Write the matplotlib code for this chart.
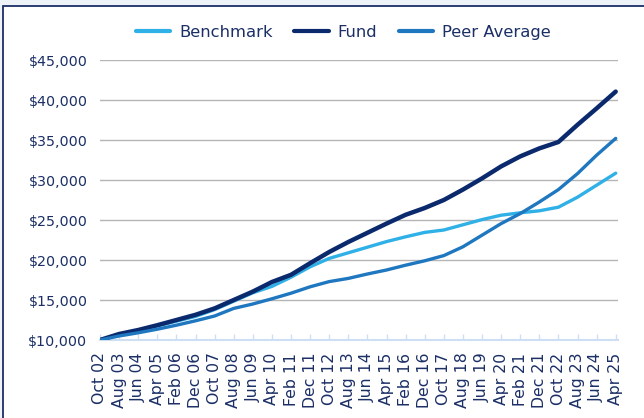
import matplotlib.pyplot as plt
from matplotlib.patches import Rectangle

dates = [
    "Oct 02", "Aug 03", "Jun 04", "Apr 05", "Feb 06", "Dec 06", "Oct 07",
    "Aug 08", "Jun 09", "Apr 10", "Feb 11", "Dec 11", "Oct 12", "Aug 13",
    "Jun 14", "Apr 15", "Feb 16", "Dec 16", "Oct 17", "Aug 18", "Jun 19",
    "Apr 20", "Feb 21", "Dec 21", "Oct 22", "Aug 23", "Jun 24", "Apr 25",
]

benchmark = [
    10000, 10650, 11150, 11750, 12350, 12950, 13800, 14850, 15900, 16700,
    17850, 19150, 20200, 20900, 21600, 22300, 22900, 23450, 23750, 24400,
    25050, 25600, 25900, 26150, 26600, 27850, 29350, 30850,
]
fund = [
    10000, 10750, 11250, 11850, 12500, 13150, 13950, 15000, 16050, 17250,
    18150, 19600, 21000, 22250, 23400, 24550, 25650, 26500, 27500, 28800,
    30200, 31700, 32950, 33950, 34750, 36900, 38950, 41050,
]
peer = [
    10000, 10500, 10900, 11350, 11850, 12400, 13000, 13950, 14500, 15150,
    15850, 16650, 17300, 17700, 18250, 18750, 19350, 19900, 20550, 21650,
    23100, 24550, 25800, 27250, 28800, 30800, 33100, 35200,
]

NAVY = "#1b2f66"
plt.rcParams["font.family"] = ["DejaVu Sans"]

fig = plt.figure(figsize=(6.44, 4.18), dpi=100, facecolor="#eef2f9")
frame = Rectangle((3 / 644, -0.05), 1.0, 1 - 6 / 418 + 0.05,
                  transform=fig.transFigure, facecolor="white",
                  edgecolor=NAVY, linewidth=1.3, zorder=-10)
fig.patches.append(frame)

ax = fig.add_axes([100 / 644, 1 - 340 / 418, 518 / 644, 280 / 418])
ax.set_facecolor("none")

x = list(range(len(dates)))
ax.plot(x, benchmark, color="#2fb0e6", lw=2.4, label="Benchmark", solid_capstyle="round", zorder=3)
ax.plot(x, fund, color="#0b2a6e", lw=3.2, label="Fund", solid_capstyle="round", zorder=4)
ax.plot(x, peer, color="#1f77c0", lw=2.4, label="Peer Average", solid_capstyle="round", zorder=5)

ax.set_xlim(0, 27.12)
ax.set_ylim(10000, 45000)
ax.set_yticks(range(10000, 45001, 5000))
ax.set_yticklabels([f"${v:,}" for v in range(10000, 45001, 5000)])
ax.set_xticks(x)
ax.set_xticklabels(dates, rotation=90)

ax.grid(axis="y", color="#b5b5b5", lw=1)
ax.set_axisbelow(True)
for s in ["top", "right", "left"]:
    ax.spines[s].set_visible(False)
ax.spines["bottom"].set_color("#cfdff3")
ax.spines["bottom"].set_linewidth(1.5)
ax.tick_params(axis="x", direction="in", length=4, color="#cfdff3", width=1,
               labelsize=11.3, labelcolor=NAVY, pad=9)
ax.tick_params(axis="y", length=0, labelsize=10.3, labelcolor=NAVY, pad=9)

leg = ax.legend(loc="lower center", bbox_to_anchor=(0.47, 1.02), ncol=3, frameon=False,
                prop={"size": 11.8}, handlelength=2.1, columnspacing=1.3,
                handletextpad=0.55)
for t in leg.get_texts():
    t.set_color(NAVY)
for h in leg.get_lines():
    h.set_linewidth(3.0)

fig.savefig("out.png", dpi=100, facecolor=fig.get_facecolor())
